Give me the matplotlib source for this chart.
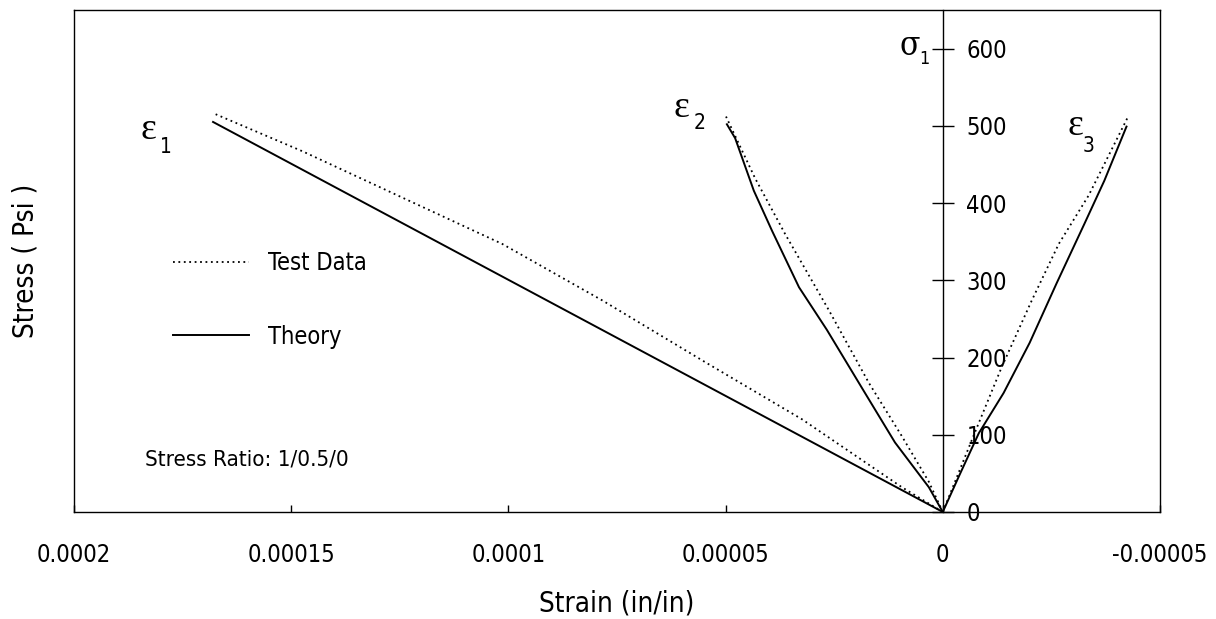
import matplotlib
matplotlib.use("Agg")
import matplotlib.pyplot as plt
from matplotlib.lines import Line2D
from matplotlib import font_manager as fm

# look for a condensed sans face; the scanned figure uses a narrow font
narrow = None
for f in fm.fontManager.ttflist:
    if f.weight in (400, "normal", "regular") and f.style == "normal" and (
            "Narrow" in f.name or "Condensed" in f.name or f.stretch in ("condensed", "semi-condensed")):
        narrow = f
        break

if narrow is not None:
    plt.rcParams["font.family"] = [narrow.name, "Liberation Sans", "DejaVu Sans"]
    plt.rcParams["font.stretch"] = narrow.stretch
    base = 17
else:
    plt.rcParams["font.family"] = ["Liberation Sans", "DejaVu Sans"]
    base = 16
plt.rcParams["axes.unicode_minus"] = False

# ---- data (strain in/in, stress psi) ----
e1_test_x = [0, 0.94e-5, 3.24e-5, 5.47e-5, 7.84e-5, 1.014e-4, 1.244e-4, 1.474e-4, 1.674e-4]
e1_test_y = [0, 32, 120, 194, 274, 347, 407, 467, 515]
e1_theory_x = [0, 1.68e-4]
e1_theory_y = [0, 505]

e2_test_x = [0, 0.32e-5, 0.94e-5, 1.70e-5, 2.62e-5, 3.63e-5, 4.32e-5, 4.99e-5]
e2_test_y = [0, 39, 98, 167, 261, 360, 432, 512]
e2_theory_x = [0, 0.32e-5, 1.10e-5, 1.79e-5, 2.67e-5, 3.31e-5, 3.93e-5, 4.35e-5, 4.78e-5, 4.97e-5]
e2_theory_y = [0, 32, 90, 154, 236, 291, 364, 416, 484, 502]

e3_test_x = [0, -0.28e-5, -0.74e-5, -1.36e-5, -2.05e-5, -2.67e-5, -3.36e-5, -4.25e-5]
e3_test_y = [0, 39, 103, 188, 274, 347, 410, 510]
e3_theory_x = [0, -0.37e-5, -0.83e-5, -1.40e-5, -2.0e-5, -2.62e-5, -3.26e-5, -3.72e-5, -4.23e-5]
e3_theory_y = [0, 46, 102, 154, 219, 296, 373, 429, 499]

x_ticks = [0.0002, 0.00015, 0.0001, 0.00005, 0, -0.00005]
x_tick_labels = ["0.0002", "0.00015", "0.0001", "0.00005", "0", "-0.00005"]
y_ticks = [0, 100, 200, 300, 400, 500, 600]

fig = plt.figure(figsize=(12.16, 6.19), dpi=100)
ax = fig.add_axes([0.0609, 0.1729, 0.893, 0.811])

dot = dict(color="black", linestyle=(0, (1, 2)), linewidth=1.3)
sol = dict(color="black", linestyle="-", linewidth=1.4)

ax.plot(e1_test_x, e1_test_y, **dot)
ax.plot(e1_theory_x, e1_theory_y, **sol)
ax.plot(e2_test_x, e2_test_y, **dot)
ax.plot(e2_theory_x, e2_theory_y, **sol)
ax.plot(e3_test_x, e3_test_y, **dot)
ax.plot(e3_theory_x, e3_theory_y, **sol)

ax.set_xlim(0.0002, -0.00005)
ax.set_ylim(0, 650)

# x axis: small inward ticks on the bottom
ax.set_xticks(x_ticks)
ax.set_xticklabels(x_tick_labels, fontsize=base)
ax.tick_params(axis="x", direction="in", length=5, width=1, pad=22, top=False)

# y axis drawn at strain = 0 with crossing ticks, labels to the right
ax.spines["right"].set_position(("data", 0))
ax.yaxis.tick_right()
ax.set_yticks(y_ticks)
ax.tick_params(axis="y", direction="inout", length=16, width=1, pad=9, labelsize=base)
# outer right frame line
ax.add_line(Line2D([1, 1], [0, 1], transform=ax.transAxes, color="black", linewidth=1, clip_on=False))

for s in ax.spines.values():
    s.set_linewidth(1)

ax.yaxis.set_label_position("left")
ax.set_ylabel("Stress ( Psi )", fontsize=base + 3)
ax.yaxis.set_label_coords(-0.032, 0.5)
ax.set_xlabel("Strain (in/in)", fontsize=base + 3)
ax.xaxis.set_label_coords(0.5, -0.155)

# curve labels
greek = dict(family=["Liberation Serif", "DejaVu Serif"], fontsize=27, ha="center", va="center")
sub = dict(fontsize=15, ha="center", va="center")
ax.text(1.828e-4, 495, "ε", **greek)
ax.text(1.788e-4, 472, "1", **sub)
ax.text(6.02e-5, 523, "ε", **greek)
ax.text(5.6e-5, 504, "2", **sub)
ax.text(-3.06e-5, 500, "ε", **greek)
ax.text(-3.36e-5, 474, "3", **sub)
ax.text(7.6e-6, 603, "σ", **dict(greek, family=["DejaVu Serif"], fontsize=24))
ax.text(4.2e-6, 586, "1", **dict(sub, fontsize=13))

# legend
handles = [Line2D([], [], **dot), Line2D([], [], **sol)]
ax.legend(handles, ["Test Data", "Theory"], loc="upper left",
          bbox_to_anchor=(0.072, 0.562), frameon=False, fontsize=base,
          handlelength=3.2, handletextpad=0.8, labelspacing=2.1)

ax.text(0.065, 0.105, "Stress Ratio: 1/0.5/0", transform=ax.transAxes,
        fontsize=base - 1, ha="left", va="center")

fig.savefig("out.png", dpi=100)
